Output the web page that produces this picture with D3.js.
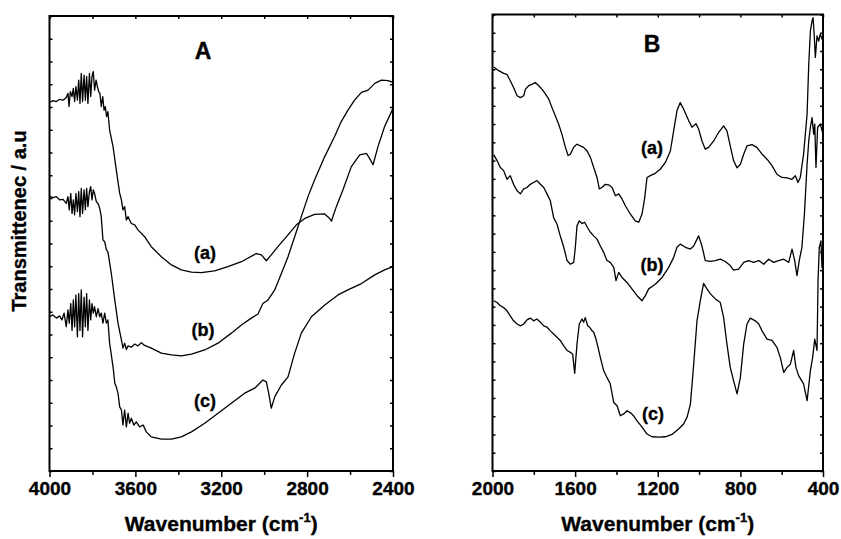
<!DOCTYPE html>
<html>
<head>
<meta charset="utf-8">
<script src="https://cdn.jsdelivr.net/npm/d3@7"></script>
<style>
    body { margin: 0; background: #fff; }
    svg { display: block; }
    text { font-family: "Liberation Sans", Arial, sans-serif; font-weight: bold; fill: #000; stroke: #000; stroke-width: 0.35; }
    .frame { fill: none; stroke: #000; stroke-width: 2; }
    .axis path { display: none; }
    .axis line { stroke: #000; stroke-width: 1.5; }
    .axis text { font-size: 19px; }
    .spectrum { fill: none; stroke: #000; stroke-width: 1.3; stroke-linejoin: round; }
</style>
</head>
<body>
<svg width="841" height="539"></svg>
<script>
// Panel A, 4000-2400 cm-1. Each point is [wavenumber, transmittance a.u.]
var specA_a = [
    [4000, 81.0], [3984, 81.4], [3968, 81.2], [3953, 81.7], [3937, 81.5], [3922, 82.1],
    [3914, 83.0], [3909, 80.1], [3903, 83.4], [3895, 82.3], [3889, 84.1], [3883, 81.2],
    [3877, 84.5], [3870, 81.5], [3864, 85.9], [3858, 80.8], [3852, 87.4], [3846, 81.2],
    [3839, 87.0], [3833, 81.5], [3827, 86.7], [3821, 80.8], [3814, 87.4], [3808, 82.3],
    [3802, 86.7], [3796, 87.8], [3790, 83.7], [3783, 85.9], [3777, 84.5], [3771, 83.4],
    [3765, 83.0], [3759, 80.1], [3752, 82.3], [3746, 79.3], [3740, 80.1], [3734, 77.9],
    [3728, 79.0], [3720, 74.9], [3704, 71.3], [3689, 66.2], [3673, 61.0], [3665, 59.6],
    [3658, 57.4], [3650, 58.1], [3642, 55.2], [3634, 55.9], [3619, 54.4], [3603, 54.1],
    [3588, 53.0], [3557, 51.5], [3526, 49.3], [3479, 47.1], [3432, 45.3], [3386, 44.2],
    [3339, 43.7], [3293, 43.6], [3231, 44.0], [3169, 44.9], [3106, 46.0], [3037, 47.8],
    [3013, 47.5], [2990, 46.2], [2967, 47.5], [2936, 49.3], [2889, 51.9], [2850, 54.1],
    [2811, 55.5], [2765, 56.4], [2718, 56.5], [2695, 55.5], [2687, 54.9], [2664, 58.1],
    [2633, 61.8], [2594, 66.9], [2555, 69.5], [2524, 69.8], [2509, 68.7], [2493, 67.3],
    [2470, 71.3], [2439, 75.7], [2400, 79.7]
];
var specA_b = [
    [4000, 60.4], [3984, 60.1], [3968, 60.3], [3953, 59.6], [3937, 59.7], [3922, 58.8],
    [3914, 60.3], [3908, 57.4], [3901, 61.0], [3895, 56.6], [3889, 59.6], [3883, 56.3],
    [3877, 61.0], [3870, 57.0], [3864, 61.4], [3858, 55.9], [3852, 62.1], [3846, 56.6],
    [3839, 61.8], [3833, 57.4], [3827, 62.1], [3821, 58.1], [3814, 61.4], [3808, 62.5],
    [3802, 59.6], [3796, 61.8], [3790, 61.0], [3782, 59.2], [3774, 58.8], [3766, 57.7],
    [3759, 55.9], [3751, 50.8], [3743, 50.4], [3735, 48.6], [3728, 48.2], [3712, 43.4],
    [3696, 37.6], [3681, 32.5], [3665, 28.8], [3658, 27.0], [3650, 28.1], [3642, 26.7],
    [3634, 27.5], [3619, 27.2], [3603, 27.9], [3588, 27.5], [3572, 28.2], [3557, 27.6],
    [3526, 27.0], [3479, 25.9], [3432, 25.5], [3386, 25.3], [3339, 25.7], [3277, 26.6],
    [3215, 28.1], [3153, 30.3], [3106, 32.1], [3060, 33.6], [3029, 34.5], [3006, 36.8],
    [2982, 37.6], [2951, 39.8], [2920, 43.4], [2889, 47.1], [2858, 51.5], [2827, 55.9],
    [2796, 60.3], [2765, 64.0], [2718, 69.1], [2672, 73.5], [2641, 76.8], [2610, 79.3],
    [2579, 81.5], [2547, 83.2], [2516, 83.7], [2485, 85.2], [2454, 85.9], [2423, 85.8],
    [2400, 85.4]
];
var specA_c = [
    [4000, 33.9], [3984, 34.3], [3968, 33.6], [3953, 34.1], [3942, 33.2], [3932, 34.7],
    [3922, 31.7], [3914, 35.4], [3908, 32.5], [3901, 36.8], [3895, 30.9], [3889, 37.6],
    [3883, 31.7], [3877, 38.7], [3870, 29.5], [3864, 39.0], [3858, 30.9], [3852, 39.8],
    [3846, 29.5], [3839, 38.2], [3833, 31.7], [3827, 39.0], [3821, 30.9], [3814, 37.6],
    [3808, 33.2], [3802, 36.8], [3796, 34.7], [3790, 36.1], [3782, 33.9], [3774, 35.7],
    [3766, 33.9], [3759, 34.7], [3751, 32.5], [3743, 34.7], [3735, 32.5], [3728, 33.2],
    [3720, 28.1], [3704, 22.9], [3696, 19.3], [3689, 18.5], [3681, 17.1], [3673, 14.1],
    [3665, 13.4], [3658, 10.1], [3650, 13.4], [3642, 9.7], [3634, 12.7], [3627, 10.5],
    [3619, 11.6], [3607, 10.1], [3596, 10.8], [3580, 9.7], [3564, 10.1], [3549, 8.6],
    [3526, 7.5], [3479, 7.0], [3432, 7.0], [3386, 7.5], [3339, 8.6], [3277, 10.5],
    [3215, 12.7], [3153, 14.9], [3091, 17.1], [3044, 18.2], [3006, 20.0], [2990, 19.6],
    [2979, 17.1], [2967, 13.8], [2951, 16.3], [2920, 18.9], [2889, 20.7], [2858, 25.9],
    [2827, 30.3], [2780, 33.9], [2718, 36.5], [2656, 38.7], [2610, 39.8], [2547, 41.2],
    [2485, 43.1], [2439, 44.2], [2400, 44.9]
];

// Panel B, 2000-400 cm-1
var specB_a = [
    [1994, 88.5], [1970, 87.7], [1946, 87.1], [1930, 86.9], [1914, 85.5], [1898, 84.0],
    [1881, 82.2], [1865, 81.8], [1849, 82.2], [1841, 83.6], [1825, 84.4], [1809, 84.7],
    [1793, 85.1], [1776, 84.4], [1760, 83.6], [1744, 82.6], [1728, 81.5], [1712, 79.6],
    [1696, 77.8], [1680, 76.0], [1664, 73.8], [1647, 70.9], [1634, 69.1], [1623, 69.4],
    [1607, 70.9], [1591, 71.6], [1575, 71.2], [1559, 70.9], [1542, 70.1], [1526, 68.7],
    [1510, 66.5], [1494, 64.3], [1483, 61.8], [1470, 62.1], [1454, 62.8], [1438, 62.7],
    [1421, 62.1], [1405, 60.3], [1389, 60.7], [1373, 59.6], [1357, 58.1], [1333, 56.3],
    [1309, 54.8], [1292, 54.5], [1276, 56.3], [1263, 59.9], [1252, 64.3], [1236, 64.7],
    [1212, 65.2], [1188, 66.1], [1163, 67.6], [1139, 70.1], [1123, 74.5], [1107, 78.9],
    [1091, 80.7], [1075, 79.3], [1050, 76.7], [1034, 75.3], [1015, 76.1], [1002, 74.9],
    [986, 72.3], [970, 70.5], [954, 70.9], [929, 72.3], [905, 74.2], [881, 75.6],
    [865, 74.5], [849, 71.2], [833, 68.0], [816, 66.4], [800, 67.2], [784, 69.4],
    [768, 71.2], [744, 71.5], [720, 70.9], [695, 69.4], [671, 68.3], [647, 66.9],
    [623, 65.0], [599, 64.3], [574, 64.2], [550, 63.9], [534, 64.7], [521, 63.2],
    [510, 64.3], [494, 69.4], [477, 78.2], [469, 89.1], [461, 96.4], [453, 98.6],
    [448, 99.3], [442, 95.0], [437, 90.6], [429, 95.3], [421, 94.2], [413, 95.7],
    [405, 94.6], [400, 95.0]
];
var specB_b = [
    [1994, 69.3], [1978, 68.0], [1962, 66.5], [1946, 65.8], [1930, 63.9], [1914, 64.7],
    [1898, 62.8], [1881, 61.4], [1865, 60.7], [1849, 61.8], [1833, 62.1], [1817, 62.8],
    [1801, 63.2], [1785, 63.6], [1768, 62.8], [1752, 62.1], [1736, 60.7], [1720, 59.2],
    [1704, 55.5], [1688, 54.1], [1672, 51.5], [1655, 49.0], [1639, 46.1], [1623, 45.3],
    [1607, 45.7], [1599, 49.0], [1591, 53.7], [1580, 54.8], [1567, 54.2], [1554, 54.5],
    [1541, 53.4], [1526, 52.3], [1510, 51.5], [1494, 50.8], [1478, 49.3], [1462, 47.9],
    [1446, 46.1], [1430, 45.7], [1413, 44.6], [1402, 41.7], [1389, 43.5], [1373, 42.4],
    [1349, 41.3], [1325, 39.9], [1300, 38.4], [1276, 37.3], [1260, 38.4], [1244, 39.9],
    [1212, 40.9], [1179, 42.4], [1147, 44.6], [1123, 46.8], [1107, 49.0], [1091, 49.7],
    [1066, 49.0], [1042, 48.6], [1026, 49.3], [1002, 51.5], [986, 49.3], [970, 46.1],
    [945, 45.9], [921, 46.1], [897, 46.4], [873, 45.9], [849, 45.0], [833, 44.0],
    [808, 44.2], [784, 45.7], [760, 46.1], [736, 45.7], [711, 46.1], [687, 45.3],
    [663, 46.4], [639, 45.7], [615, 46.1], [590, 46.4], [566, 45.7], [550, 48.6],
    [537, 46.1], [526, 42.8], [515, 46.1], [502, 49.0], [490, 56.3], [477, 67.2],
    [469, 72.3], [461, 75.3], [453, 77.4], [445, 73.8], [440, 76.0], [434, 66.5],
    [426, 75.3], [413, 76.0], [400, 73.8]
];
var specB_c = [
    [1994, 37.3], [1978, 36.9], [1962, 36.2], [1946, 35.8], [1930, 35.1], [1914, 34.0],
    [1898, 32.9], [1881, 32.2], [1865, 31.8], [1849, 32.2], [1833, 33.1], [1817, 33.5],
    [1801, 32.9], [1785, 33.3], [1768, 32.6], [1752, 31.8], [1736, 31.5], [1720, 30.7],
    [1704, 30.0], [1688, 29.3], [1672, 28.6], [1655, 27.4], [1639, 26.4], [1623, 26.0],
    [1612, 25.6], [1602, 21.4], [1591, 27.8], [1580, 32.2], [1567, 33.3], [1559, 32.6],
    [1551, 33.6], [1539, 31.8], [1530, 31.5], [1518, 30.7], [1510, 30.4], [1499, 28.9],
    [1489, 27.1], [1478, 24.9], [1462, 22.0], [1446, 20.5], [1430, 19.1], [1413, 15.0],
    [1397, 14.3], [1381, 12.1], [1365, 12.5], [1349, 13.2], [1333, 12.8], [1317, 12.1],
    [1300, 11.0], [1276, 9.6], [1252, 8.1], [1228, 7.5], [1196, 7.4], [1163, 7.5],
    [1131, 8.0], [1099, 9.2], [1075, 10.3], [1058, 11.8], [1042, 14.6], [1026, 23.4],
    [1010, 32.9], [994, 37.3], [978, 41.1], [962, 39.9], [945, 38.8], [921, 37.7],
    [897, 36.9], [881, 33.6], [865, 27.8], [849, 22.7], [833, 19.8], [816, 16.9],
    [800, 20.5], [784, 27.8], [768, 32.2], [752, 33.5], [728, 32.9], [711, 32.2],
    [695, 30.7], [671, 28.9], [647, 28.6], [623, 27.1], [607, 24.9], [590, 21.6],
    [574, 22.7], [558, 23.4], [542, 26.4], [531, 22.7], [518, 20.9], [494, 19.1],
    [477, 15.4], [461, 22.0], [450, 24.9], [440, 28.9], [429, 26.4], [424, 41.7],
    [418, 49.0], [410, 50.4], [405, 44.6], [400, 49.0]
];

var ticksA = [4000, 3600, 3200, 2800, 2400];
var minorTicksA = [3800, 3400, 3000, 2600];
var ticksB = [2000, 1600, 1200, 800, 400];
var minorTicksB = [1800, 1400, 1000, 600];
var seriesLabels = ["(a)", "(b)", "(c)"];
var panelTitles = ["A", "B"];

var svg = d3.select("svg");

function drawPanel(opts) {
    var x = d3.scaleLinear().domain(opts.xDomain).range([opts.left, opts.right]);
    var y = d3.scaleLinear().domain([0, 100]).range([opts.bottom, opts.top]);
    var g = svg.append("g");

    // Bottom axis: labelled major ticks plus minor ticks, pointing out.
    g.append("g").attr("class", "axis")
        .attr("transform", "translate(0," + opts.bottom + ")")
        .call(d3.axisBottom(x).tickValues(opts.ticks).tickSize(6).tickPadding(5).tickFormat(d3.format("d")));
    g.append("g").attr("class", "axis")
        .attr("transform", "translate(0," + opts.bottom + ")")
        .call(d3.axisBottom(x).tickValues(opts.minor).tickSize(4).tickFormat(""));

    // Top axis ticks point in.
    g.append("g").attr("class", "axis")
        .attr("transform", "translate(0," + opts.top + ")")
        .call(d3.axisTop(x).tickValues(opts.ticks.concat(opts.minor)).tickSize(-3).tickFormat(""));

    // Unlabelled y ticks on both sides, pointing in.
    var yTicks = d3.range(0, 100.01, opts.yStep);
    g.append("g").attr("class", "axis")
        .attr("transform", "translate(" + opts.left + ",0)")
        .call(d3.axisLeft(y).tickValues(yTicks).tickSize(-3).tickFormat(""));
    g.append("g").attr("class", "axis")
        .attr("transform", "translate(" + opts.right + ",0)")
        .call(d3.axisRight(y).tickValues(yTicks).tickSize(-3).tickFormat(""));

    var line = d3.line()
        .x(function(d) { return x(d[0]); })
        .y(function(d) { return y(d[1]); });

    g.selectAll("path.spectrum")
        .data(opts.series)
        .enter().append("path")
        .attr("class", "spectrum")
        .attr("d", line);

    g.append("rect").attr("class", "frame")
        .attr("x", opts.left).attr("y", opts.top)
        .attr("width", opts.right - opts.left)
        .attr("height", opts.bottom - opts.top);

    g.append("text")
        .attr("x", x(opts.title[0])).attr("y", y(opts.title[1]))
        .attr("dy", "0.36em")
        .attr("text-anchor", "middle")
        .style("font-size", "23px")
        .text(opts.title[2]);

    opts.labels.forEach(function(p, i) {
        g.append("text")
            .attr("x", x(p[0])).attr("y", y(p[1]))
            .attr("dy", "0.36em")
            .attr("text-anchor", "middle")
            .style("font-size", "18px")
            .text(seriesLabels[i]);
    });

    var xt = g.append("text")
        .attr("x", (opts.left + opts.right) / 2).attr("y", 531)
        .attr("text-anchor", "middle")
        .style("font-size", "21px");
    xt.append("tspan").text("Wavenumber (cm");
    xt.append("tspan").attr("dy", -9).style("font-size", "13px").text("-1");
    xt.append("tspan").attr("dy", 9).text(")");
}

drawPanel({
    xDomain: [4000, 2400], left: 49.5, right: 393, top: 16, bottom: 471,
    ticks: ticksA, minor: minorTicksA, yStep: 5,
    series: [specA_a, specA_b, specA_c],
    title: [3285, 92.3, panelTitles[0]],
    labels: [[3276, 48.1], [3285, 31.0], [3276, 15.4]]
});

drawPanel({
    xDomain: [2000, 400], left: 492.5, right: 823, top: 14.5, bottom: 471,
    ticks: ticksB, minor: minorTicksB, yStep: 4,
    series: [specB_a, specB_b, specB_c],
    title: [1228, 93.5, panelTitles[1]],
    labels: [[1228, 70.8], [1228, 45.3], [1223, 12.5]]
});

svg.append("text")
    .attr("transform", "translate(26,221) rotate(-90)")
    .attr("text-anchor", "middle")
    .style("font-size", "20px")
    .text("Transmittenec / a.u");
</script>
</body>
</html>
